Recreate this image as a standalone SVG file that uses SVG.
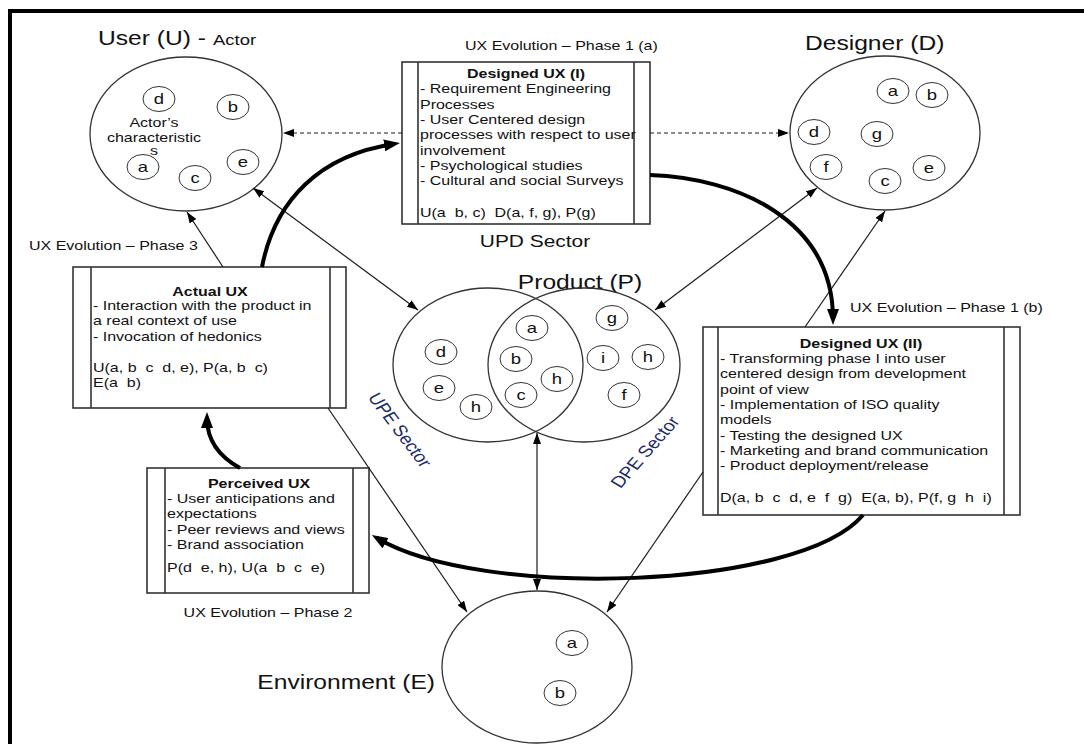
<svg xmlns="http://www.w3.org/2000/svg" width="1084" height="744" viewBox="0 0 1084 744">
  <style>
    text { font-family: "Liberation Sans", Arial, sans-serif; fill: #111; }
    .f13 { font-size: 13px; }
    .f15 { font-size: 15px; }
    .f17 { font-size: 17px; }
    .f20 { font-size: 20px; }
    .b { font-weight: bold; }
    .mid { text-anchor: middle; }
    .end { text-anchor: end; }
    .pre { white-space: pre; }
    .sector { font-size: 16px; fill: #1c2a6b; text-anchor: middle; }
    .big { fill: #fff; stroke: #333; stroke-width: 1.3; }
    .sm { fill: #fff; stroke: #333; stroke-width: 1; }
    .box { fill: #fff; stroke: #333; stroke-width: 1.6; }
    .bar { stroke: #333; stroke-width: 1.6; }
    .ln { fill: none; stroke: #1a1a1a; stroke-width: 1.2; }
    .dsh { stroke-dasharray: 4 3; }
    .thk { fill: none; stroke: #000; stroke-width: 4; }
    .frame { fill: none; stroke: #000; stroke-width: 4; }
  </style>
  <defs>
    <marker id="ah" viewBox="0 0 11 8" refX="11" refY="4" markerWidth="11" markerHeight="8" markerUnits="userSpaceOnUse" orient="auto-start-reverse">
      <path d="M0,0 L11,4 L0,8 z" fill="#000"/>
    </marker>
    <marker id="ahT" viewBox="0 0 16 12" refX="10" refY="6" markerWidth="16" markerHeight="12" markerUnits="userSpaceOnUse" orient="auto">
      <path d="M0,0 L16,6 L0,12 z" fill="#000"/>
    </marker>
  </defs>

  <rect width="1084" height="744" fill="#fff"/>
  <path class="frame" d="M10,744 V11 H1084"/>

  <!-- User -->
  <g id="user">
    <text class="f20" transform="translate(98 45) scale(1.23 1)">User (U) -</text>
    <text class="f15" transform="translate(213 45) scale(1.23 1)">Actor</text>
    <ellipse class="big" cx="186" cy="134" rx="96" ry="77"/>
    <text class="f13 mid" transform="translate(154 0) scale(1.23 1)"><tspan x="0" y="127">Actor’s</tspan><tspan x="0" y="142">characteristic</tspan><tspan x="0" y="155">s</tspan></text>
    <ellipse class="sm" cx="159" cy="99" rx="16" ry="12.5"/>
    <text class="f15 mid" transform="translate(159 104) scale(1.23 1)">d</text>
    <ellipse class="sm" cx="233" cy="107" rx="16" ry="12.5"/>
    <text class="f15 mid" transform="translate(233 112) scale(1.23 1)">b</text>
    <ellipse class="sm" cx="143" cy="167" rx="16" ry="12.5"/>
    <text class="f15 mid" transform="translate(143 172) scale(1.23 1)">a</text>
    <ellipse class="sm" cx="195" cy="178" rx="16" ry="12.5"/>
    <text class="f15 mid" transform="translate(195 183) scale(1.23 1)">c</text>
    <ellipse class="sm" cx="243" cy="162" rx="16" ry="12.5"/>
    <text class="f15 mid" transform="translate(243 167) scale(1.23 1)">e</text>
  </g>

  <!-- Designer -->
  <g id="designer">
    <text class="f20" transform="translate(805 50) scale(1.23 1)">Designer (D)</text>
    <ellipse class="big" cx="885" cy="133" rx="95" ry="77"/>
    <ellipse class="sm" cx="893" cy="91" rx="16" ry="12.5"/>
    <text class="f15 mid" transform="translate(893 96) scale(1.23 1)">a</text>
    <ellipse class="sm" cx="932" cy="95" rx="16" ry="12.5"/>
    <text class="f15 mid" transform="translate(932 100) scale(1.23 1)">b</text>
    <ellipse class="sm" cx="814" cy="132" rx="16" ry="12.5"/>
    <text class="f15 mid" transform="translate(814 137) scale(1.23 1)">d</text>
    <ellipse class="sm" cx="877" cy="134" rx="16" ry="12.5"/>
    <text class="f15 mid" transform="translate(877 139) scale(1.23 1)">g</text>
    <ellipse class="sm" cx="826" cy="167" rx="16" ry="12.5"/>
    <text class="f15 mid" transform="translate(826 172) scale(1.23 1)">f</text>
    <ellipse class="sm" cx="885" cy="181" rx="16" ry="12.5"/>
    <text class="f15 mid" transform="translate(885 186) scale(1.23 1)">c</text>
    <ellipse class="sm" cx="929" cy="168" rx="16" ry="12.5"/>
    <text class="f15 mid" transform="translate(929 173) scale(1.23 1)">e</text>
  </g>

  <!-- Designed UX (I) -->
  <g id="designed-ux-1">
    <text class="f13" transform="translate(465 50) scale(1.23 1)">UX Evolution – Phase 1 (a)</text>
    <rect class="box" x="402" y="62" width="248" height="162"/>
    <line class="bar" x1="418" y1="62" x2="418" y2="224"/>
    <line class="bar" x1="634" y1="62" x2="634" y2="224"/>
    <text class="f13 b mid" transform="translate(526 78) scale(1.23 1)">Designed UX (I)</text>
    <text class="f13" transform="translate(420 0) scale(1.23 1)">
      <tspan x="0" y="93.5">- Requirement Engineering</tspan>
      <tspan x="0" y="109">Processes</tspan>
      <tspan x="0" y="124">- User Centered design</tspan>
      <tspan x="0" y="139.5">processes with respect to user</tspan>
      <tspan x="0" y="155">involvement</tspan>
      <tspan x="0" y="170">- Psychological studies</tspan>
      <tspan x="0" y="185.5">- Cultural and social Surveys</tspan>
    </text>
    <text class="f13 pre" transform="translate(420 216.5) scale(1.23 1)">U(a  b, c)  D(a, f, g), P(g)</text>
    <text class="f17 mid" transform="translate(535 247) scale(1.23 1)">UPD Sector</text>
  </g>

  <!-- Actual UX -->
  <g id="actual-ux">
    <text class="f13" transform="translate(29 250) scale(1.23 1)">UX Evolution – Phase 3</text>
    <rect class="box" x="73" y="267" width="273" height="141"/>
    <line class="bar" x1="91" y1="267" x2="91" y2="408"/>
    <line class="bar" x1="330" y1="267" x2="330" y2="408"/>
    <text class="f13 b mid" transform="translate(210 295.5) scale(1.23 1)">Actual UX</text>
    <text class="f13" transform="translate(93 0) scale(1.23 1)">
      <tspan x="0" y="310.5">- Interaction with the product in</tspan>
      <tspan x="0" y="325.5">a real context of use</tspan>
      <tspan x="0" y="341">- Invocation of hedonics</tspan>
    </text>
    <text class="f13 pre" transform="translate(93 372) scale(1.23 1)">U(a, b  c  d, e), P(a, b  c)</text>
    <text class="f13 pre" transform="translate(93 387) scale(1.23 1)">E(a  b)</text>
  </g>

  <!-- Perceived UX -->
  <g id="perceived-ux">
    <rect class="box" x="147" y="468" width="222" height="125"/>
    <line class="bar" x1="165" y1="468" x2="165" y2="593"/>
    <line class="bar" x1="353" y1="468" x2="353" y2="593"/>
    <text class="f13 b mid" transform="translate(259 488) scale(1.23 1)">Perceived UX</text>
    <text class="f13" transform="translate(167 0) scale(1.23 1)">
      <tspan x="0" y="503">- User anticipations and</tspan>
      <tspan x="0" y="518">expectations</tspan>
      <tspan x="0" y="534">- Peer reviews and views</tspan>
      <tspan x="0" y="549">- Brand association</tspan>
    </text>
    <text class="f13 pre" transform="translate(167 572) scale(1.23 1)">P(d  e, h), U(a  b  c  e)</text>
    <text class="f13 mid" transform="translate(268 617) scale(1.23 1)">UX Evolution – Phase 2</text>
  </g>

  <!-- Designed UX (II) -->
  <g id="designed-ux-2">
    <text class="f13" transform="translate(850 312) scale(1.23 1)">UX Evolution – Phase 1 (b)</text>
    <rect class="box" x="703" y="327" width="317" height="188"/>
    <line class="bar" x1="718" y1="327" x2="718" y2="515"/>
    <line class="bar" x1="1004" y1="327" x2="1004" y2="515"/>
    <text class="f13 b mid" transform="translate(861 348) scale(1.23 1)">Designed UX (II)</text>
    <text class="f13" transform="translate(720 0) scale(1.23 1)">
      <tspan x="0" y="363.5">- Transforming phase I into user</tspan>
      <tspan x="0" y="378.5">centered design from development</tspan>
      <tspan x="0" y="394">point of view</tspan>
      <tspan x="0" y="409.5">- Implementation of ISO quality</tspan>
      <tspan x="0" y="424.5">models</tspan>
      <tspan x="0" y="440">- Testing the designed UX</tspan>
      <tspan x="0" y="455">- Marketing and brand communication</tspan>
      <tspan x="0" y="470.5">- Product deployment/release</tspan>
    </text>
    <text class="f13 pre" transform="translate(720 501.5) scale(1.23 1)">D(a, b  c  d, e  f  g)  E(a, b), P(f, g  h  i)</text>
  </g>

  <!-- Product -->
  <g id="product">
    <text class="f20 mid" transform="translate(580 289) scale(1.23 1)">Product (P)</text>
    <ellipse class="big" cx="488" cy="365" rx="95" ry="77"/>
    <ellipse cx="584" cy="365" rx="96" ry="77" fill="none" stroke="#333" stroke-width="1.3"/>
    <ellipse class="sm" cx="441" cy="352" rx="16" ry="12.5"/>
    <text class="f15 mid" transform="translate(441 357) scale(1.23 1)">d</text>
    <ellipse class="sm" cx="439" cy="388" rx="16" ry="12.5"/>
    <text class="f15 mid" transform="translate(439 393) scale(1.23 1)">e</text>
    <ellipse class="sm" cx="476" cy="407" rx="16" ry="12.5"/>
    <text class="f15 mid" transform="translate(476 412) scale(1.23 1)">h</text>
    <ellipse class="sm" cx="532" cy="328" rx="16" ry="12.5"/>
    <text class="f15 mid" transform="translate(532 333) scale(1.23 1)">a</text>
    <ellipse class="sm" cx="516" cy="359" rx="16" ry="12.5"/>
    <text class="f15 mid" transform="translate(516 364) scale(1.23 1)">b</text>
    <ellipse class="sm" cx="521" cy="395" rx="16" ry="12.5"/>
    <text class="f15 mid" transform="translate(521 400) scale(1.23 1)">c</text>
    <ellipse class="sm" cx="557" cy="379" rx="16" ry="12.5"/>
    <text class="f15 mid" transform="translate(557 384) scale(1.23 1)">h</text>
    <ellipse class="sm" cx="612" cy="318" rx="16" ry="12.5"/>
    <text class="f15 mid" transform="translate(612 323) scale(1.23 1)">g</text>
    <ellipse class="sm" cx="603" cy="358" rx="16" ry="12.5"/>
    <text class="f15 mid" transform="translate(603 363) scale(1.23 1)">i</text>
    <ellipse class="sm" cx="648" cy="357" rx="16" ry="12.5"/>
    <text class="f15 mid" transform="translate(648 362) scale(1.23 1)">h</text>
    <ellipse class="sm" cx="624" cy="395" rx="16" ry="12.5"/>
    <text class="f15 mid" transform="translate(624 400) scale(1.23 1)">f</text>
    <text class="sector" transform="translate(400 430) scale(1.23 1) rotate(58.4)" y="5.5">UPE Sector</text>
    <text class="sector" transform="translate(645 452) scale(1.23 1) rotate(-54.2)" y="5.5">DPE Sector</text>
  </g>

  <!-- Environment -->
  <g id="environment">
    <text class="f20 end" transform="translate(435 689) scale(1.23 1)">Environment (E)</text>
    <ellipse class="big" cx="537" cy="667" rx="95" ry="76"/>
    <ellipse class="sm" cx="572" cy="643" rx="16" ry="12.5"/>
    <text class="f15 mid" transform="translate(572 648) scale(1.23 1)">a</text>
    <ellipse class="sm" cx="560" cy="693" rx="16" ry="12.5"/>
    <text class="f15 mid" transform="translate(560 698) scale(1.23 1)">b</text>
  </g>

  <!-- Connectors -->
  <g id="connectors">
    <path class="ln dsh" d="M402,133 H283" marker-end="url(#ah)"/>
    <path class="ln dsh" d="M650,133 H789" marker-end="url(#ah)"/>
    <path class="ln" d="M253,188 L418,310" marker-start="url(#ah)" marker-end="url(#ah)"/>
    <path class="ln" d="M817,188 L655,310" marker-start="url(#ah)" marker-end="url(#ah)"/>
    <path class="ln" d="M223,267 L187,212" marker-end="url(#ah)"/>
    <path class="ln" d="M805,327 L885,211" marker-end="url(#ah)"/>
    <path class="ln" d="M328,408 L467,612" marker-end="url(#ah)"/>
    <path class="ln" d="M703,472 L607,612" marker-end="url(#ah)"/>
    <path class="ln" d="M537,433 V590" marker-start="url(#ah)" marker-end="url(#ah)"/>
    <path class="thk" d="M262,267 C275,200 320,155 394,144" marker-end="url(#ahT)"/>
    <path class="thk" d="M650,175 C738,178 833,220 833,319" marker-end="url(#ahT)"/>
    <path class="thk" d="M240,468 C218,456 207,440 207,418" marker-end="url(#ahT)"/>
    <path class="thk" d="M863,515 C800,590 480,600 377,538" marker-end="url(#ahT)"/>
  </g>
</svg>
